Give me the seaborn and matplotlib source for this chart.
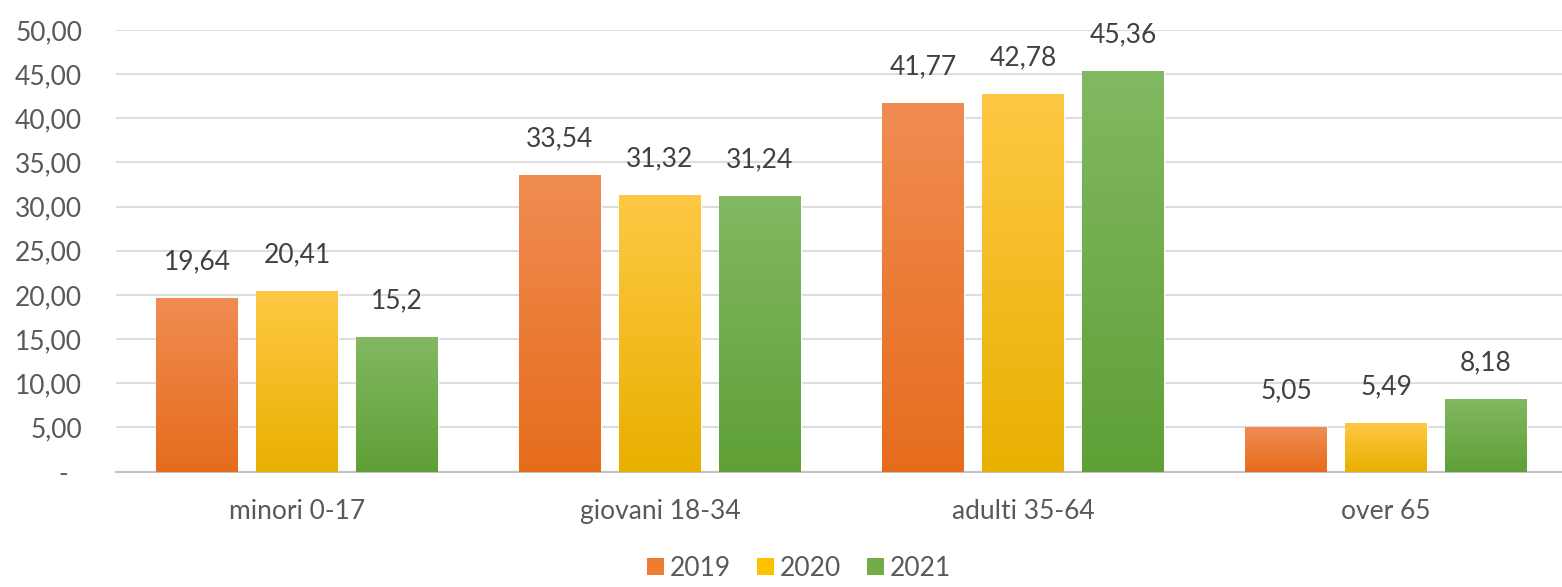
import numpy as np
import pandas as pd
import matplotlib
matplotlib.use("Agg")
import matplotlib.pyplot as plt
import seaborn as sns
from matplotlib.colors import LinearSegmentedColormap
from matplotlib.patches import Patch

categories = ["minori 0-17", "giovani 18-34", "adulti 35-64", "over 65"]
years = ["2019", "2020", "2021"]
v2019 = [19.64, 33.54, 41.77, 5.05]
v2020 = [20.41, 31.32, 42.78, 5.49]
v2021 = [15.2, 31.24, 45.36, 8.18]
yticks = [0, 5, 10, 15, 20, 25, 30, 35, 40, 45, 50]
ytick_labels = ["-  ", "5,00", "10,00", "15,00", "20,00", "25,00", "30,00",
                "35,00", "40,00", "45,00", "50,00"]

df = pd.DataFrame({
    "cat": categories * 3,
    "year": [y for y in years for _ in categories],
    "val": v2019 + v2020 + v2021,
})

sns.set_theme(style="white")
plt.rcParams["font.family"] = ["Lato", "DejaVu Sans"]
txt = "#595959"

W, H = 1562, 587
fig = plt.figure(figsize=(W / 100, H / 100), dpi=100)
ax = fig.add_axes([115.5 / W, 1 - 471.5 / H, (W - 115.5) / W, (471.5 - 30) / H])

base_cols = {"2019": "#ED7D31", "2020": "#FFC000", "2021": "#70AD47"}
grad = {
    "2019": ("#F08C52", "#E66C1C"),
    "2020": ("#FFC844", "#E8B000"),
    "2021": ("#82B862", "#5FA036"),
}

sns.barplot(data=df, x="cat", y="val", hue="year", palette=base_cols,
            width=0.826, gap=0.18, ax=ax, legend=False, errorbar=None,
            saturation=1, zorder=2)

# gradient fills
for container, yr in zip(ax.containers, years):
    top, bot = grad[yr]
    cmap = LinearSegmentedColormap.from_list(yr, [bot, top])
    for p in container:
        x0, y0 = p.get_x(), p.get_y()
        w, h = p.get_width(), p.get_height()
        img = ax.imshow(np.linspace(0, 1, 256).reshape(-1, 1), cmap=cmap,
                        aspect="auto", origin="lower",
                        extent=[x0, x0 + w, y0, y0 + h], zorder=3)
        img.set_clip_path(p)
    ax.bar_label(container, labels=[str(v).replace(".", ",") for v in container.datavalues],
                 padding=17, fontsize=19, color="#404040")

ax.set_xlim(-0.5, -0.5 + (W - 115.5) / 363.0)
ax.set_ylim(0, 50)

ax.set_yticks(yticks)
ax.set_yticklabels(ytick_labels)
ax.tick_params(axis="y", length=0, pad=24, labelsize=19, labelcolor=txt)
ax.tick_params(axis="x", length=0, pad=20, labelsize=19, labelcolor=txt)
ax.set_xlabel("")
ax.set_ylabel("")
ax.grid(axis="y", color="#DDDDDD", linewidth=1.5, zorder=0)
ax.set_axisbelow(True)
for s in ["top", "right", "left"]:
    ax.spines[s].set_visible(False)
ax.spines["bottom"].set_color("#C4C4C4")
ax.spines["bottom"].set_linewidth(1.5)

handles = [Patch(facecolor=base_cols[y], edgecolor="none") for y in years]
fig.legend(handles, years, loc="lower center", bbox_to_anchor=(799 / W, -0.03),
           ncol=3, frameon=False, fontsize=19, labelcolor=txt,
           handlelength=0.65, handleheight=0.65, handletextpad=0.2,
           columnspacing=1.0)

fig.savefig("out.png", dpi=100)
